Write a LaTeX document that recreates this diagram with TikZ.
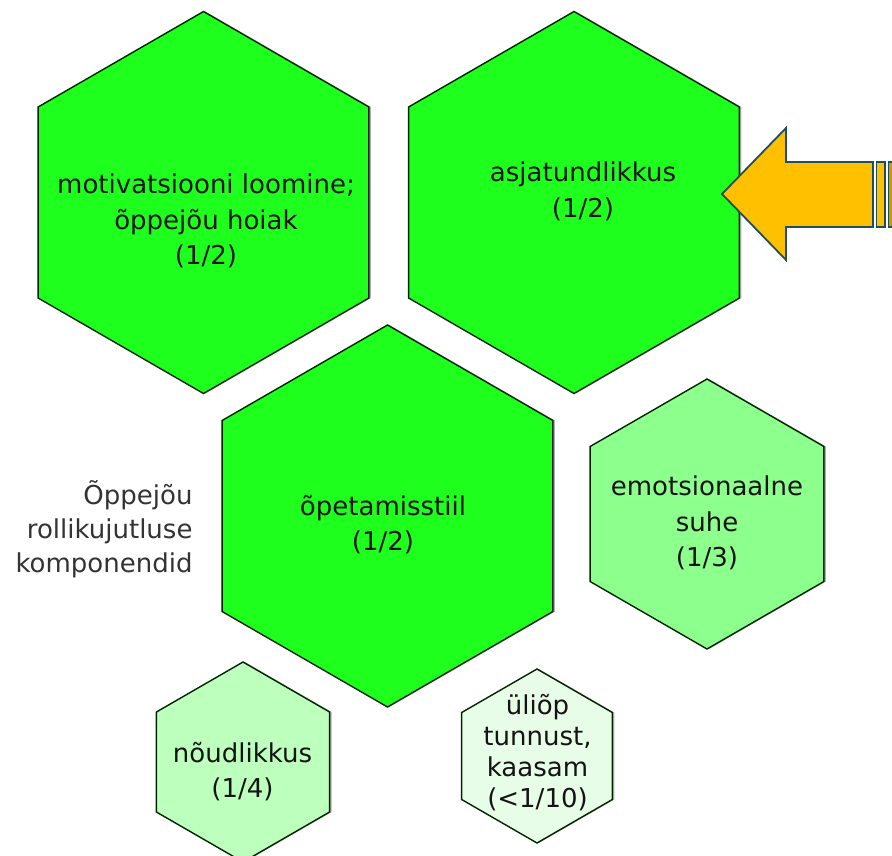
\documentclass[tikz,border=0pt]{standalone}
\usepackage{fontspec}
\setmainfont{DejaVu Sans}
\usetikzlibrary{shapes.geometric,shadows}

\definecolor{hexbig}{HTML}{1EFF1E}
\definecolor{hexmid}{HTML}{8CFF8C}
\definecolor{hexlow}{HTML}{BDFFBD}
\definecolor{hexmin}{HTML}{E8FDE8}
\definecolor{arrowfill}{HTML}{FFC000}
\definecolor{arrowline}{HTML}{1F4E5F}

\begin{document}
\begin{tikzpicture}[x=1pt,y=-1pt,
    hexa/.style={regular polygon,regular polygon sides=6,shape border rotate=30,
      draw=black!85!green,line width=1.4pt,inner sep=0pt,
      drop shadow={shadow xshift=2pt,shadow yshift=0pt,fill=black!30,opacity=1}},
    txt/.style={align=center,text=black!92,font=\fontsize{26}{35.5}\selectfont}]
  \useasboundingbox (0,0) rectangle (892,855);
  \clip (0,0) rectangle (892,855);
  % large hexagons
  \node[hexa,fill=hexbig,minimum size=382pt] (motiv) at (203.5,202.5) {};
  \node[hexa,fill=hexbig,minimum size=382pt] (asjat) at (574,202.5) {};
  \node[hexa,fill=hexbig,minimum size=382pt] (opet) at (387.5,516) {};
  % smaller ones
  \node[hexa,fill=hexmid,minimum size=270pt] (emots) at (707,514) {};
  \node[hexa,fill=hexlow,minimum size=200pt] (noud) at (243,762) {};
  \node[hexa,fill=hexmin,minimum size=174pt] (uliop) at (537,756) {};
  % texts
  \node[txt] (motiv-t) at (206,221) {motivatsiooni loomine;\\õppejõu hoiak\\(1/2)};
  \node[txt] (asjat-t) at (583,191.5) {asjatundlikkus\\(1/2)};
  \node[txt] (opet-t) at (383,524.5) {õpetamisstiil\\(1/2)};
  \node[txt] (emots-t) at (707,523) {emotsionaalne\\suhe\\(1/3)};
  \node[txt] (noud-t) at (242.5,771.5) {nõudlikkus\\(1/4)};
  \node[txt,font=\fontsize{26}{31}\selectfont] (uliop-t) at (537.5,752.5) %
    {üliõp\\tunnust,\\kaasam\\(<1/10)};
  \node[txt,align=right,anchor=east,text=black!80,font=\fontsize{26}{34}\selectfont] %
    (roll) at (196,529) {Õppejõu\\rollikujutluse\\komponendid};
  % block arrow
  \draw[arrowline,fill=arrowfill,line width=1.8pt,line join=miter] (722,194) -- (786,128) %
    -- (786,162) -- (873,162) -- (873,227) -- (786,227) -- (786,260) -- cycle;
  \draw[arrowline,fill=arrowfill,line width=1.8pt] (876.5,162) rectangle (885,227);
  \draw[arrowline,fill=arrowfill!80!black,line width=1.8pt] (888.5,162) rectangle (900,227);
\end{tikzpicture}
\end{document}
